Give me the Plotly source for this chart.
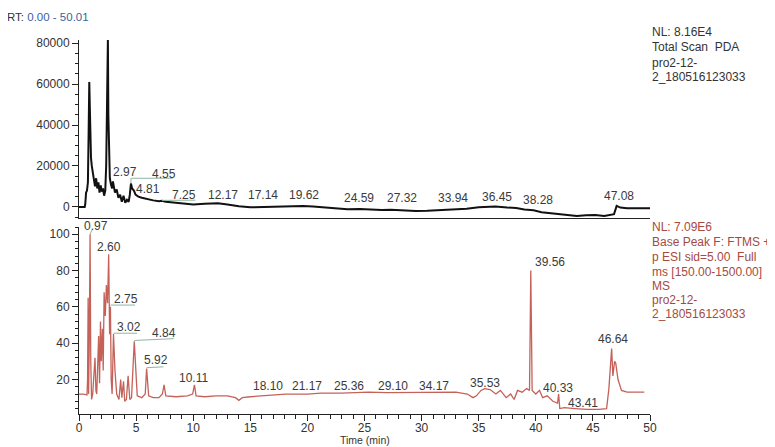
import plotly.graph_objects as go

# ---------------- data ----------------
# Top: Total Scan PDA (absorbance counts)
pda_time = [0, 0.3, 0.5, 0.55, 0.62, 0.7, 0.78, 0.84, 0.9, 0.95, 1.0, 1.05, 1.12, 1.2, 1.3, 1.4, 1.5,
            1.6, 1.7, 1.8, 1.9, 2.0, 2.1, 2.2, 2.3, 2.38, 2.45, 2.5, 2.53, 2.57, 2.62, 2.7, 2.8, 2.9,
            2.97, 3.05, 3.15, 3.3, 3.45, 3.6, 3.75, 3.9, 4.05, 4.2, 4.35, 4.45, 4.55, 4.65, 4.81, 4.95,
            5.2, 5.5, 6.0, 6.5, 7.0, 7.25, 7.6, 8.2, 9.0, 10.0, 11.0, 12.17, 13.0, 14.0, 15.0, 16.0,
            17.14, 18.0, 19.0, 19.62, 20.5, 21.5, 22.5, 23.5, 24.59, 25.5, 26.5, 27.32, 28.5, 29.5,
            30.5, 31.5, 32.5, 33.94, 35.0, 36.45, 37.5, 38.28, 39.0, 39.8, 40.5, 41.3, 42.0, 42.8,
            43.6, 44.4, 45.2, 46.0, 46.6, 46.85, 47.08, 47.4, 48.0, 48.6, 49.2, 49.8, 50.0]
pda_signal = [0, 200, 0, 1500, 7000, 8000, 12000, 35000, 61000, 48000, 30000, 24000, 20000, 17000,
              15000, 10000, 14000, 9000, 12000, 7000, 10500, 7500, 9000, 5500, 8000, 20000, 48000,
              70000, 81600, 45000, 22000, 14000, 11000, 9000, 12500, 9000, 7000, 8500, 4500, 6000,
              2500, 5500, 2000, 3500, 2500, 6000, 11500, 9000, 8000, 6000, 5000, 4500, 3800, 3200,
              2800, 3000, 2500, 2200, 1500, 1200, 1500, 1800, 1200, 300, -200, 0, 200, 100, 400, 500,
              200, -300, -700, -1100, -1000, -1300, -1500, -1400, -1800, -2000, -1900, -1700, -1500,
              -900, -200, 200, -300, -500, -1200, -1600, -2600, -3000, -3500, -3800, -4400, -4000,
              -3900, -4400, -4000, -3500, 500, -300, -600, -500, -700, -600, -700]

# Bottom: Base Peak FTMS (relative abundance, %)
ms_time = [0, 0.4, 0.7, 0.75, 0.8, 0.84, 0.9, 0.97, 1.03, 1.1, 1.2, 1.3, 1.4, 1.48, 1.55, 1.65, 1.72,
           1.8, 1.88, 1.95, 2.05, 2.12, 2.2, 2.3, 2.4, 2.5, 2.6, 2.68, 2.75, 2.82, 2.9, 3.02, 3.15,
           3.3, 3.5, 3.65, 3.75, 3.9, 4.0, 4.15, 4.3, 4.45, 4.6, 4.84, 4.95, 5.1, 5.5, 5.8, 5.92,
           6.1, 6.5, 7.0, 7.3, 7.45, 7.6, 8.5, 9.5, 9.95, 10.11, 10.25, 11, 12, 13, 13.7, 14.0,
           14.3, 15, 16, 18.1, 20, 21.17, 23, 25.36, 27, 29.1, 31, 33, 34, 34.5, 34.8, 35.2, 35.53,
           36.0, 36.5, 36.9, 37.4, 37.8, 38.1, 38.4, 38.8, 39.2, 39.45, 39.56, 39.68, 40.0, 40.33,
           40.6, 41.0, 41.5, 41.9, 42.0, 42.1, 42.5, 43.41, 44.5, 45.5, 46.2, 46.4, 46.55, 46.64,
           46.75, 46.9, 47.0, 47.2, 47.5, 48, 49, 49.5]
ms_abund = [12, 12, 11.5, 20, 65, 12, 40, 100, 30, 9, 12, 20, 32, 14, 12, 30, 44, 18, 52, 30, 48, 25,
            68, 55, 72, 62, 89, 45, 60, 20, 12, 45, 25, 12, 9, 20, 10, 19, 8, 9, 22, 9, 10, 41, 25,
            11, 10, 12, 26, 11, 10, 10, 12, 17, 11, 10.5, 11, 12, 17, 11, 10.5, 11, 11, 10, 8.5, 10,
            10.5, 11, 12, 12, 12.5, 12.5, 13, 12.8, 13, 13, 13, 12, 10, 11, 14, 15, 14.5, 12, 14, 10,
            12, 9, 14, 13, 15, 14, 80, 14, 12, 14, 10, 11, 8, 7, 12, 4, 4.5, 4, 3.5, 3.5, 4, 15, 30,
            37, 22, 30, 29, 20, 14, 13, 13, 13]

# Peak labels (text, label position)
top_labels = ["2.53", "2.97", "4.55", "4.81", "7.25", "12.17", "17.14", "19.62", "24.59", "27.32",
              "33.94", "36.45", "38.28", "47.08"]
top_label_x = [2.46, 4.04, 7.47, 6.06, 9.23, 12.57, 16.08, 19.68, 24.52, 28.3, 32.78, 36.56, 40.16, 47.28]
top_label_y = [81600, 17100, 16100, 8800, 5900, 5900, 5900, 5900, 4400, 4400, 4400, 4900, 3400, 5400]
top_label_shift = [7, 0, 0, 0, 0, 0, 0, 0, 0, 0, 0, 0, 0, 0]

bot_labels = ["0.97", "2.60", "2.75", "3.02", "4.84", "5.92", "10.11", "18.10", "21.17", "25.36",
              "29.10", "34.17", "35.53", "39.56", "40.33", "43.41", "46.64"]
bot_label_x = [1.49, 2.64, 4.13, 4.39, 7.47, 6.77, 10.02, 16.52, 20.0, 23.66, 27.48, 31.06, 35.59,
               41.21, 41.92, 44.11, 46.77]
bot_label_y = [100, 92.9, 64.5, 48.7, 45.6, 30.5, 21, 16.2, 16.2, 16.2, 16.2, 16.2, 18, 85, 15.3,
               7.3, 42.3]
bot_label_shift = [8, 0, 0, 0, 0, 0, 0, 0, 0, 0, 0, 0, 0, 0, 0, 0, 0]

# leader lines (peak time -> label), as (x0, y0, x1, y1) in data units
top_leaders = [(4.55, 11500, 4.55, 14000), (4.55, 14000, 8.2, 14000), (7.25, 3200, 10.2, 3300)]
bot_leaders = [(0.97, 100, 1.15, 102.5), (2.75, 61, 4.9, 61), (3.02, 45.5, 5.1, 45.5),
               (4.84, 41.5, 8.3, 42.5), (5.92, 26.5, 7.4, 27)]

top_y_ticks = [0, 20000, 40000, 60000, 80000]
bot_y_ticks = [20, 40, 60, 80, 100]
x_ticks = [0, 5, 10, 15, 20, 25, 30, 35, 40, 45, 50]

top_info = ["NL: 8.16E4", "Total Scan  PDA", "pro2-12-", "2_180516123033"]
bot_info = ["NL: 7.09E6", "Base Peak F: FTMS +", "p ESI sid=5.00  Full", "ms [150.00-1500.00]",
            "MS", "pro2-12-", "2_180516123033"]

# ---------------- figure ----------------
FONT = "Liberation Sans, Arial, sans-serif"
OFF = 8                      # default page body margin
W, H = 775 - OFF, 447 - OFF  # figure size inside the page
ML, MR, MT, MB = 79 - OFF, 125, 40 - OFF, 33
PH = H - MT - MB
PW = W - ML - MR


def py(px):
    """window pixel row -> paper y"""
    return (H + OFF - MB - px) / PH


def pxx(px):
    """window pixel column -> paper x"""
    return (px - OFF - ML) / PW


fig = go.Figure()
fig.add_trace(go.Scatter(x=pda_time, y=pda_signal, mode="lines", xaxis="x", yaxis="y",
                         line=dict(color="#111111", width=2), showlegend=False))
fig.add_trace(go.Scatter(x=ms_time, y=ms_abund, mode="lines", xaxis="x2", yaxis="y2",
                         line=dict(color="#c4625a", width=1.3), showlegend=False))

LEAD = "#8fb5a0"
shapes = []
for x0, y0, x1, y1 in top_leaders:
    shapes.append(dict(type="line", xref="x", yref="y", x0=x0, y0=y0, x1=x1, y1=y1,
                       line=dict(color=LEAD, width=1)))
for x0, y0, x1, y1 in bot_leaders:
    shapes.append(dict(type="line", xref="x2", yref="y2", x0=x0, y0=y0, x1=x1, y1=y1,
                       line=dict(color=LEAD, width=1)))

ann = []
for t, x, y, s in zip(top_labels, top_label_x, top_label_y, top_label_shift):
    ann.append(dict(x=x, y=y, xref="x", yref="y", text=t, showarrow=False, yshift=s,
                    font=dict(family=FONT, size=12, color="#3a3a3a")))
for t, x, y, s in zip(bot_labels, bot_label_x, bot_label_y, bot_label_shift):
    ann.append(dict(x=x, y=y, xref="x2", yref="y2", text=t, showarrow=False, yshift=s,
                    font=dict(family=FONT, size=12, color="#3a3a3a")))

top_rows = [31.7, 47.2, 62.5, 76.7]
for t, r in zip(top_info, top_rows):
    ann.append(dict(x=pxx(650), y=py(r), xref="paper", yref="paper", text=t, showarrow=False,
                    xanchor="left", yanchor="middle",
                    font=dict(family=FONT, size=12, color="#333333")))
bot_rows = [226.7, 242.3, 256.7, 271.7, 285.5, 300, 313.8]
for t, r in zip(bot_info, bot_rows):
    ann.append(dict(x=pxx(650), y=py(r), xref="paper", yref="paper", text=t, showarrow=False,
                    xanchor="left", yanchor="middle",
                    font=dict(family=FONT, size=12, color="#a64a3e")))

ann.append(dict(x=pxx(5), y=py(16.7), xref="paper", yref="paper",
                text="RT: <span style='color:#3d5f9e'>0.00 - 50.01</span>", showarrow=False,
                xanchor="left", yanchor="middle", font=dict(family=FONT, size=11.5, color="#333333")))
ann.append(dict(x=pxx(365), y=py(447), xref="paper", yref="paper", text="Time (min)", showarrow=False,
                xanchor="center", yanchor="bottom", borderpad=0,
                font=dict(family=FONT, size=10.5, color="#333333")))

axis_line = dict(showgrid=False, zeroline=False, showline=True, linecolor="#222222", linewidth=1,
                 tickcolor="#222222")
tick_font = dict(family=FONT, size=12, color="#333333")

fig.update_layout(
    width=W, height=H,
    margin=dict(l=ML, r=MR, t=MT, b=MB),
    paper_bgcolor="white", plot_bgcolor="white",
    annotations=ann,
    shapes=shapes,
    xaxis=dict(domain=[0, 1], anchor="y", range=[0, 50], showticklabels=False, ticks="", **axis_line),
    yaxis=dict(domain=[py(218), 1], anchor="x", range=[-5400, 81500], tickvals=top_y_ticks,
               tickformat="d", ticks="outside", ticklen=6, tickfont=tick_font,
               minor=dict(dtick=5000, tick0=0, ticks="outside", ticklen=3, tickcolor="#222222"),
               **axis_line),
    xaxis2=dict(domain=[0, 1], anchor="y2", range=[0, 50], tickvals=x_ticks, ticks="outside",
                ticklen=6, tickfont=tick_font, ticklabelstandoff=-3,
                minor=dict(dtick=1, tick0=0, ticks="outside", ticklen=4, tickcolor="#222222"),
                **axis_line),
    yaxis2=dict(domain=[0, py(227)], anchor="x2", range=[1, 104], tickvals=bot_y_ticks,
                ticks="outside", ticklen=6, tickfont=tick_font,
                minor=dict(dtick=4, tick0=0, ticks="outside", ticklen=3, tickcolor="#222222"),
                **axis_line),
)

fig.write_html("out.html")
